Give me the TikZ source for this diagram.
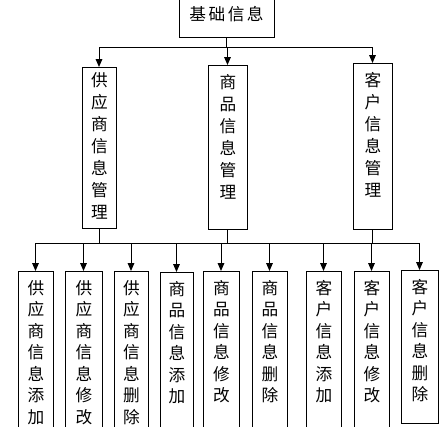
\documentclass[tikz,border=0pt]{standalone}
\usepackage{fontspec}
\newfontfamily\cjk{Noto Sans CJK SC}
\usetikzlibrary{arrows.meta}

\tikzset{
  box/.style={draw, line width=0.75pt, inner sep=0pt},
  midbox/.style={box, anchor=north, align=center, text width=12pt, text height=17.25pt,
    text depth=106pt, minimum width=29.25pt, font=\cjk\fontsize{12.5pt}{16.5pt}\selectfont},
  leafbox/.style={box, anchor=north, align=center, text width=12pt, text height=17.25pt,
    text depth=109.5pt, minimum width=26.25pt, font=\cjk\fontsize{12.5pt}{16.1pt}\selectfont},
  arr/.style={-{Triangle[length=6pt,width=5pt]}},
}

\begin{document}
\begin{tikzpicture}[x=0.75pt, y=-0.75pt, line width=0.75pt]
  \useasboundingbox (0,0) rectangle (446,426);

  % Root
  \node[box, minimum width=71.25pt, minimum height=33.75pt,
    font=\cjk\fontsize{12.5pt}{14pt}\selectfont\addfontfeature{LetterSpace=15}] (root) at (226.5,14.5) {基础信息};

  % Second level
  \node[midbox, minimum width=25.5pt, text height=14.25pt, text depth=106.5pt] (supp) at (99,67) {供\\应\\商\\信\\息\\管\\理};
  \node[midbox, text depth=105.75pt] (goods) at (227.5,65) {商\\品\\信\\息\\管\\理};
  \node[midbox, text depth=107.25pt] (cust) at (372.5,63) {客\\户\\信\\息\\管\\理};

  \coordinate (bus) at (226.5,47);
  \draw (root) -- (bus);
  \draw (bus -| supp) -- (bus -| cust);
  \foreach \n in {supp,goods,cust}
    \draw[arr] (bus -| \n) -- (\n);

  % Leaves
  \node[leafbox] (sadd) at (35.5,271) {供\\应\\商\\信\\息\\添\\加};
  \node[leafbox, minimum width=27.75pt] (sedit) at (83.5,271) {供\\应\\商\\信\\息\\修\\改};
  \node[leafbox, minimum width=25.5pt] (sdel) at (131,271) {供\\应\\商\\信\\息\\删\\除};
  \node[leafbox, minimum width=24.75pt] (gadd) at (176.5,272) {商\\品\\信\\息\\添\\加};
  \node[leafbox, minimum width=27pt] (gedit) at (221,271) {商\\品\\信\\息\\修\\改};
  \node[leafbox] (gdel) at (269.5,271) {商\\品\\信\\息\\删\\除};
  \node[leafbox] (cadd) at (323.5,271) {客\\户\\信\\息\\添\\加};
  \node[leafbox] (cedit) at (371.5,271) {客\\户\\信\\息\\修\\改};
  \node[leafbox, minimum width=27.75pt, text depth=97.5pt] (cdel) at (419.5,270) {客\\户\\信\\息\\删\\除};

  \coordinate (bus2) at (226.5,243);
  \foreach \n in {supp,goods,cust}
    \draw (\n) -- (bus2 -| \n);
  \draw (bus2 -| sadd) -- (bus2 -| cdel);
  \foreach \n in {sadd,sedit,sdel,gadd,gedit,gdel,cadd,cedit,cdel}
    \draw[arr] (bus2 -| \n) -- (\n);
\end{tikzpicture}
\end{document}
